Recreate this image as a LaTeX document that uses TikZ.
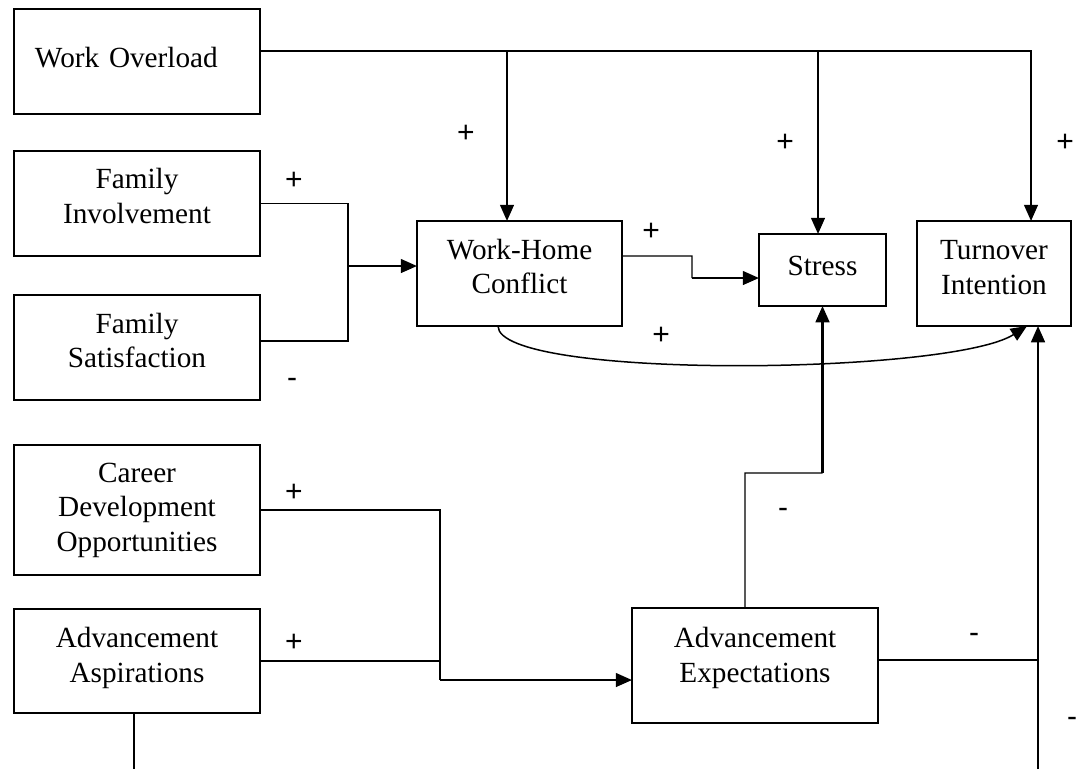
\documentclass[tikz,border=0pt]{standalone}
\usepackage{fontspec}
\setmainfont{Liberation Serif}
\newfontfamily\signfont{Liberation Sans}
\usetikzlibrary{arrows.meta, positioning, calc}

\begin{document}
\begin{tikzpicture}[
  x=0.4pt, y=-0.4pt,
  % === STYLES ===
  % Box for a construct
  construct/.style={
    draw=black,
    line width=0.7pt,
    minimum width=98.4pt,
    minimum height=#1,
    inner sep=0pt,
    outer sep=0pt,
    align=center,
    font=\fontsize{11.7}{13.8}\selectfont
  },
  construct/.default=42pt,
  % Text sits a bit high in the box
  textlift/.style={
    execute at end node={\rule[-#1]{0pt}{0pt}}
  },
  % Signs on the paths
  sign/.style={
    font=\signfont\fontsize{12}{14}\selectfont
  },
  % Lines
  thinline/.style={
    draw=black,
    line width=0.55pt
  },
  pathway/.style={
    draw=black,
    line width=0.9pt,
    -{Triangle[length=6.5pt,width=5.5pt]}
  },
  curvearrow/.style={
    draw=black,
    line width=0.6pt,
    -{Triangle[length=6.5pt,width=5.5pt]}
  }
]

% =============================================================================
% BACKGROUND
% =============================================================================
\fill[white] (0,0) rectangle (1077,769);
\useasboundingbox (0,0) rectangle (1077,769);

% =============================================================================
% CONSTRUCTS
% =============================================================================

% --- Left column ---
\node[construct, textlift=3.2pt, align=left, text width=81.6pt, inner xsep=8.4pt] (overload) at (137,61.5) {Work Overload};
\node[construct, textlift=6pt] (involve) at (137,203.5) {Family\\Involvement};
\node[construct, textlift=5.6pt] (satisf) at (137,347.5) {Family\\Satisfaction};
\node[construct=52pt] (career) at (137,510) {Career\\Development\\Opportunities};
\node[construct=41.6pt, textlift=5pt] (aspire) at (137,661) {Advancement\\Aspirations};

% --- Middle and right ---
\node[construct, textlift=5.6pt, minimum width=82pt] (conflict) at (519.5,273.5) {Work-Home\\Conflict};
\node[construct=28.8pt, textlift=3.2pt, minimum width=50.8pt] (stress) at (822.5,270) {Stress};
\node[construct, textlift=4.8pt, minimum width=61.6pt] (turnover) at (994,273.5) {Turnover\\Intention};
\node[construct=46pt, textlift=8.6pt] (expect) at (755,665.5) {Advancement\\Expectations};

% =============================================================================
% JUNCTIONS
% =============================================================================
\coordinate (wotop) at (1031,51);
\coordinate (wobrA) at (507,51);
\coordinate (wobrB) at (818,51);
\coordinate (famjoin) at (348,266);
\coordinate (satout) at ([yshift=2.6pt]satisf.east);
\coordinate (whcout) at ([yshift=7pt]conflict.east);
\coordinate (whcbend) at (692,256);
\coordinate (stressin) at ([yshift=-3.2pt]stress.west);
\coordinate (curvestart) at ([xshift=-8.6pt]conflict.south);
\coordinate (curveend) at ([xshift=13.2pt]turnover.south);
\coordinate (aetop) at ([xshift=-4pt]expect.north);
\coordinate (aebend) at (745,473);
\coordinate (carjoin) at (440,680);
\coordinate (aeout) at ([yshift=2.2pt]expect.east);
\coordinate (tibottom) at (1038,769);
\coordinate (aabottom) at (134,769);

% =============================================================================
% PATHS
% =============================================================================

% --- Work overload ---
\draw[pathway] (overload.east |- wotop) -- (wotop) -- (wotop |- turnover.north);
\draw[pathway] (wobrA) -- (wobrA |- conflict.north);
\draw[pathway] (wobrB) -- (wobrB |- stress.north);

% --- Family ---
\draw[thinline] (involve.east) -- (involve.east -| famjoin) -- (satout -| famjoin) -- (satout);
\draw[pathway] (famjoin) -- (famjoin -| conflict.west);

% --- Work-home conflict ---
\draw[thinline] (whcout) -- (whcbend) -- (whcbend |- stressin);
\draw[pathway] (whcbend |- stressin) -- (stressin);
\draw[curvearrow] (curvestart) .. controls +(0,54) and +(-77,49) .. (curveend);

% --- Career ---
\draw[thinline] (career.east) -- (career.east -| carjoin) -- (carjoin);
\draw[thinline] (aspire.east) -- (aspire.east -| carjoin);
\draw[pathway] (carjoin) -- (carjoin -| expect.west);
\draw[thinline] (aspire.south -| aabottom) -- (aabottom);

% --- Advancement expectations ---
\draw[thinline] (aetop) -- (aebend) -- (aebend -| stress.south);
\draw[pathway] (aebend -| stress.south) -- (stress.south);
\draw[thinline] (aeout) -- (aeout -| tibottom);
\draw[pathway] (tibottom) -- (tibottom |- turnover.south);

% =============================================================================
% SIGNS
% =============================================================================
\node[sign] (sgnwhc) at (466,134) {+};
\node[sign] (sgnstress) at (785,143) {+};
\node[sign] (sgnturn) at (1065,143) {+};
\node[sign] (sgninv) at (294,181) {+};
\node[sign] (sgnsat) at (292,383) {-};
\node[sign] (sgnws) at (651,232) {+};
\node[sign] (sgncurve) at (661,336) {+};
\node[sign] (sgncar) at (294,493) {+};
\node[sign] (sgnasp) at (294,643) {+};
\node[sign] (sgnaes) at (783,513) {-};
\node[sign] (sgnaet) at (974,638) {-};
\node[sign] (sgnbot) at (1072,722) {-};

\end{tikzpicture}
\end{document}
